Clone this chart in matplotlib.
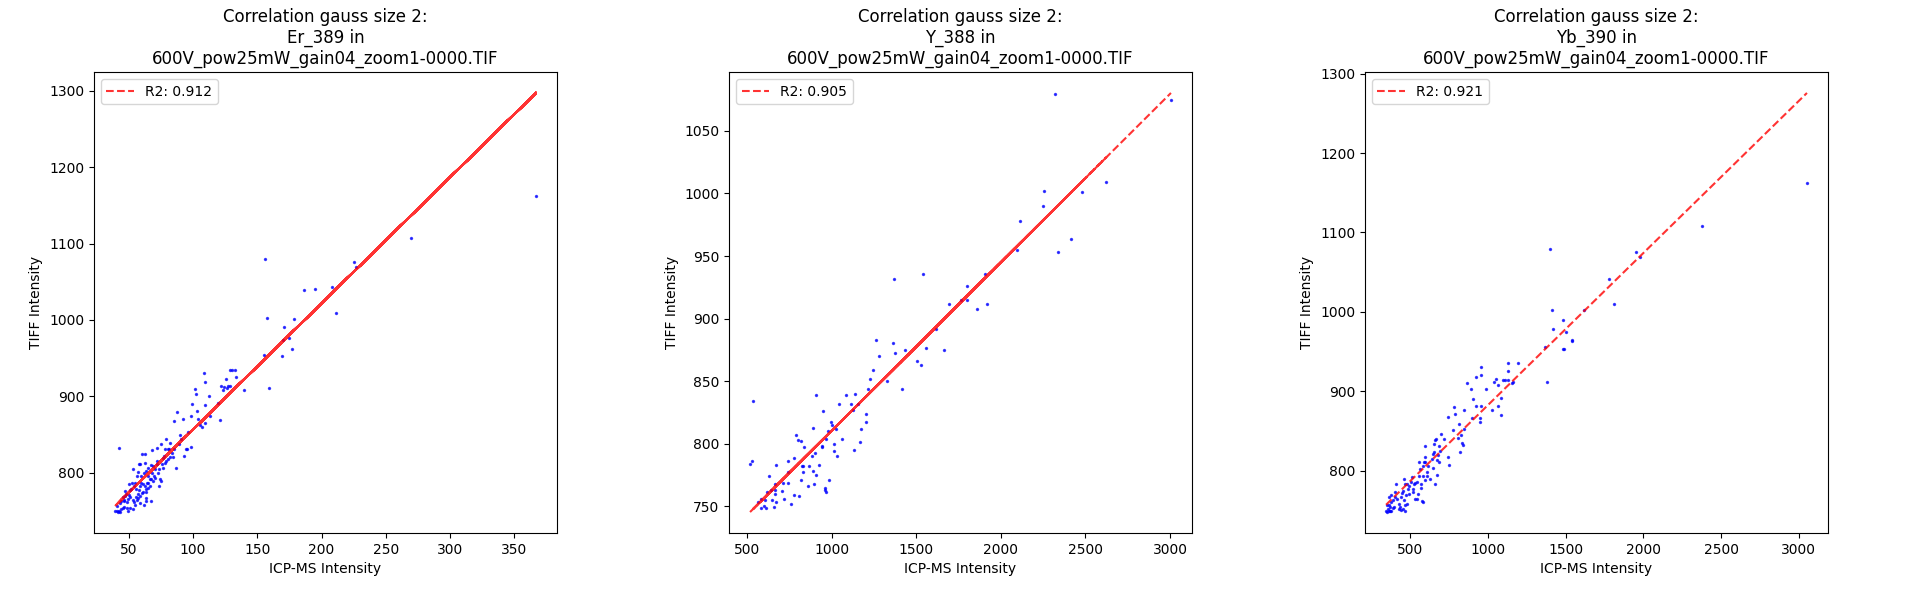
import matplotlib
matplotlib.use('Agg')
import matplotlib.pyplot as plt
import numpy as np

FILE_NAME = '600V_pow25mW_gain04_zoom1-0000.TIF'
ELEMENTS = ['Er_389', 'Y_388', 'Yb_390']
R2 = [0.912, 0.905, 0.921]
# red fit lines, y = slope * x + intercept
FIT_SLOPE = [1.654, 0.1347, 0.1914]
FIT_INTERCEPT = [690.9, 675.5, 691.5]
# how the fit line was traced through the samples: back and forth looks solid,
# in order looks dashed
LINE_ORDER = ['fan', 'zigzag_last_max', 'sorted']

# (ICP-MS intensity, TIFF intensity)
er_389 = [
    (42.6, 832.6), (39.5, 749.1), (40.8, 749.1), (42.1, 748.7), (43.7, 748.3), (42.9, 750.0),
    (43.9, 752.2), (45.5, 753.5), (46.8, 754.8), (48.9, 753.5), (49.7, 750.0), (51.3, 753.9),
    (53.4, 751.7), (53.9, 760.9), (55.0, 757.8), (58.7, 759.6), (61.8, 757.4), (63.4, 762.6),
    (63.9, 766.1), (67.1, 762.2), (41.3, 756.5), (43.4, 759.6), (44.5, 762.2), (46.1, 764.3),
    (45.5, 767.4), (47.1, 769.6), (48.4, 772.2), (47.6, 776.5), (50.3, 770.9), (50.8, 777.4),
    (51.8, 779.1), (50.5, 784.8), (52.4, 787.0), (53.2, 805.2), (54.5, 782.6), (55.3, 786.1),
    (56.1, 778.3), (57.1, 771.7), (58.4, 777.4), (58.9, 782.6), (59.7, 786.1), (60.3, 773.9),
    (61.3, 784.8), (60.8, 824.3), (62.9, 824.8), (57.4, 800.9), (56.3, 795.7), (57.9, 810.9),
    (58.9, 811.3), (62.4, 812.2), (63.2, 774.8), (64.2, 787.0), (65.0, 780.4), (65.5, 795.7),
    (66.3, 791.3), (67.1, 809.6), (67.9, 829.6), (68.4, 800.0), (69.5, 795.7), (70.3, 805.2),
    (71.8, 832.6), (72.4, 815.2), (73.9, 782.6), (74.5, 791.3), (75.0, 789.1), (75.5, 837.8),
    (76.1, 810.9), (76.8, 819.6), (77.6, 821.7), (78.2, 813.0), (79.2, 844.3), (78.7, 831.3),
    (80.3, 831.3), (81.3, 830.4), (82.6, 838.3), (82.4, 820.4), (84.5, 820.4), (85.5, 867.0),
    (86.8, 806.5), (87.6, 880.0), (89.2, 837.0), (90.0, 849.6), (91.1, 844.3), (92.4, 869.6),
    (93.2, 821.7), (94.5, 831.3), (95.5, 830.4), (96.6, 853.0), (98.2, 874.8), (98.9, 833.9),
    (99.5, 890.0), (101.3, 910.0), (102.1, 903.5), (103.2, 881.3), (103.9, 869.6), (105.5, 863.0),
    (107.1, 860.0), (108.7, 930.4), (109.7, 919.1), (109.5, 889.1), (109.7, 865.2), (112.6, 900.9),
    (113.4, 873.9), (119.5, 890.9), (120.8, 868.3), (121.8, 913.9), (123.4, 907.8), (124.5, 912.2),
    (125.5, 922.6), (126.3, 911.3), (127.6, 913.0), (128.7, 913.9), (129.2, 933.9), (130.8, 934.3),
    (132.4, 934.3), (133.4, 925.2), (139.7, 908.3), (155.5, 953.9), (159.5, 910.9), (169.5, 953.0),
    (169.7, 973.9), (174.7, 976.1), (176.8, 961.7), (155.7, 1079.9), (157.9, 1002.5), (170.8, 990.4),
    (178.6, 1001.0), (186.2, 1039.2), (195.3, 1040.2), (208.2, 1043.2), (211.6, 1009.0),
    (225.2, 1075.9), (227.0, 1069.8), (269.8, 1107.0), (366.7, 1162.3),
    (46.8, 763.0), (48.7, 760.9), (49.7, 765.2), (51.3, 767.4), (53.2, 764.3), (55.5, 767.4),
    (56.6, 763.5), (57.6, 766.1), (59.2, 769.6), (61.1, 774.8), (62.4, 782.6), (63.4, 779.1),
    (65.0, 787.0), (66.6, 782.6), (67.6, 791.3), (69.2, 789.1), (70.8, 793.5), (72.9, 800.0),
    (73.9, 804.3), (59.7, 795.7), (61.8, 799.1), (63.9, 802.6), (65.5, 806.5), (68.7, 808.7),
    (71.8, 810.9), (76.6, 806.5), (79.2, 814.8), (80.8, 818.3), (83.4, 826.1), (85.1, 830.4),
]

y_388 = [
    (535.3, 833.9), (517.6, 783.3), (529.4, 785.7), (1264.8, 883.2), (1364.8, 880.8), (1282.4, 870.4),
    (1374.6, 872.8), (1435.4, 875.2), (1247.1, 859.2), (1227.5, 852.0), (1327.5, 850.4), (1506.0, 866.4),
    (1529.5, 863.2), (1559.0, 876.8), (1617.8, 892.0), (1664.8, 875.2), (1417.7, 843.3), (1217.7, 843.3),
    (1135.4, 839.3), (1082.4, 838.5), (905.9, 838.5), (1111.8, 831.3), (1041.2, 831.3), (947.1, 825.7),
    (1155.0, 831.3), (1123.6, 826.7), (1206.0, 823.3), (1206.0, 816.9), (1176.5, 811.3), (1170.6, 800.9),
    (1129.5, 794.5), (1058.9, 803.3), (1029.5, 789.7), (1011.8, 793.7), (1011.8, 799.3), (1023.6, 811.3),
    (1000.0, 814.5), (994.2, 816.9), (976.5, 809.7), (964.7, 803.3), (941.2, 797.7), (941.2, 796.9),
    (888.3, 812.1), (788.3, 806.5), (800.0, 802.5), (817.7, 801.7), (835.3, 796.9), (882.4, 789.7),
    (900.0, 792.1), (776.5, 788.1), (741.2, 785.7), (670.6, 782.5), (823.6, 781.7), (829.4, 781.7),
    (864.7, 781.7), (923.5, 782.5), (741.2, 776.9), (829.4, 776.9), (888.3, 777.7), (905.9, 774.5),
    (982.4, 770.5), (817.7, 770.5), (629.4, 773.7), (664.7, 767.3), (711.8, 768.1), (741.2, 768.1),
    (858.8, 765.7), (894.1, 767.3), (958.8, 764.1), (958.8, 762.5), (964.7, 760.9), (705.9, 761.7),
    (662.7, 762.5), (662.7, 759.3), (641.2, 762.5), (617.7, 760.9), (647.1, 754.5), (670.6, 752.9),
    (717.7, 755.3), (776.5, 758.5), (807.8, 757.7), (758.8, 751.3), (564.7, 752.9), (582.4, 755.3),
    (605.9, 754.5), (600.0, 749.8), (611.8, 748.2), (582.4, 748.2), (658.8, 749.0), (1369.0, 931.4),
    (1539.0, 935.9), (2317.6, 1079.6), (3006.0, 1074.8), (2623.5, 1009.3), (2482.3, 1001.4),
    (2252.8, 1002.2), (2247.0, 990.2), (2111.7, 978.2), (2417.6, 963.8), (2341.0, 953.5),
    (2094.0, 955.0), (1905.7, 935.9), (1799.9, 926.3), (1694.0, 912.0), (1764.6, 914.6),
    (1799.9, 914.6), (1860.6, 908.0), (1917.5, 912.0),
]

yb_390 = [
    (344.0, 749.0), (352.5, 748.2), (361.1, 749.9), (369.6, 749.0), (378.2, 749.5), (356.8, 752.4),
    (369.6, 754.5), (386.7, 753.2), (395.3, 754.5), (348.3, 756.5), (365.4, 757.4), (373.9, 760.7),
    (365.4, 767.0), (378.2, 769.1), (391.0, 762.8), (399.6, 767.0), (403.8, 773.2), (408.1, 783.2),
    (416.7, 764.0), (425.2, 758.6), (429.5, 752.4), (433.8, 754.5), (442.3, 750.3), (450.8, 752.4),
    (438.0, 767.0), (446.6, 772.4), (455.1, 775.3), (459.4, 762.8), (463.7, 757.4), (467.9, 749.5),
    (472.2, 769.1), (480.8, 758.6), (467.9, 784.1), (459.4, 789.9), (480.8, 783.6), (485.0, 777.4),
    (489.3, 771.1), (493.6, 781.6), (502.1, 786.6), (510.7, 792.0), (515.0, 773.2), (519.2, 776.6),
    (523.5, 783.6), (527.8, 764.0), (532.1, 784.9), (540.6, 785.7), (544.9, 764.9), (549.2, 771.1),
    (553.4, 794.1), (557.7, 811.6), (562.0, 802.4), (566.2, 778.2), (570.5, 783.6), (574.8, 761.5),
    (583.3, 760.7), (579.1, 794.1), (583.3, 806.6), (587.6, 811.6), (591.9, 817.0), (591.9, 830.7),
    (596.2, 810.7), (596.2, 789.1), (604.7, 798.2), (609.0, 794.1), (613.3, 806.6), (626.1, 789.9),
    (638.9, 814.9), (643.2, 803.2), (643.2, 821.2), (651.7, 823.2), (651.7, 833.7), (656.0, 783.6),
    (660.3, 838.7), (664.5, 839.9), (668.8, 813.7), (673.1, 794.9), (677.4, 819.9), (685.9, 811.6),
    (685.9, 831.6), (690.2, 825.3), (698.7, 846.2), (715.8, 839.9), (741.5, 817.0), (747.9, 807.4),
    (743.6, 868.3), (773.5, 851.2), (779.9, 880.8), (788.5, 871.2), (805.6, 840.8), (814.1, 859.5),
    (818.4, 823.2), (827.0, 844.9), (831.2, 834.5), (839.8, 832.8), (844.1, 876.6), (844.1, 853.3),
    (865.4, 910.8), (891.1, 903.3), (899.6, 867.0), (903.9, 890.8), (921.0, 881.6), (923.1, 918.3),
    (950.9, 861.6), (950.9, 866.6), (953.0, 921.2), (955.2, 930.8), (955.2, 881.6), (989.4, 902.5),
    (1025.7, 876.2), (1036.4, 911.6), (1049.2, 915.0), (1062.0, 908.7), (1066.3, 881.6), (1081.3, 869.9),
    (1083.4, 892.0), (1096.2, 914.1), (1111.2, 914.1), (1126.1, 914.1), (1130.4, 935.8), (1130.4, 925.4),
    (1156.1, 910.0), (1160.3, 911.6), (1190.3, 935.8), (1365.5, 955.8), (1378.3, 912.0), (1485.2, 953.3),
    (1540.7, 964.2), (1397.7, 1079.7), (1410.5, 1002.2), (1417.0, 978.4), (1481.0, 989.7),
    (1500.2, 974.7), (1538.7, 963.4), (1487.4, 953.4), (1615.6, 1002.2), (1775.9, 1041.0),
    (1807.9, 1009.7), (1949.0, 1076.0), (1974.6, 1069.7), (2378.5, 1108.5), (3051.7, 1162.3),
]

# axes boxes in pixels: left edges, width, bottom, height
AX_LEFT = [94, 729, 1365]
AX_W, AX_BOTTOM, AX_H = 463, 67, 461


def line_x(x, order):
    s = list(np.sort(x))
    if order == 'sorted':
        return np.array(s)
    if order == 'fan':
        # every second vertex goes back to the largest x
        out = []
        for v in s[:-1]:
            out += [v, s[-1]]
        return np.array(out)
    last = None
    if order == 'zigzag_last_max':
        last = s.pop()
    out = []
    while s:
        out.append(s.pop(0))
        if s:
            out.append(s.pop())
    if last is not None:
        out.append(last)
    return np.array(out)


def main():
    # keep every back-and-forth vertex of the fit lines
    plt.rcParams['path.simplify'] = False
    data = [er_389, y_388, yb_390]
    fig, axs = plt.subplots(1, 3, figsize=(19.08, 6), dpi=100)
    for i, ax in enumerate(axs):
        ax.set_position([AX_LEFT[i] / 1908, AX_BOTTOM / 600, AX_W / 1908, AX_H / 600])
        x, y = np.array(data[i]).T
        ax.scatter(x, y, s=2, c='blue', alpha=0.7)
        lx = line_x(x, LINE_ORDER[i])
        ax.plot(lx, FIT_SLOPE[i] * lx + FIT_INTERCEPT[i], 'r--', alpha=0.8,
                label='R2: ' + str(R2[i]))
        ax.set_title('Correlation gauss size 2:\n' + ELEMENTS[i] + ' in\n' + FILE_NAME)
        ax.set_xlabel('ICP-MS Intensity')
        ax.set_ylabel('TIFF Intensity')
        ax.legend(loc='upper left')
    fig.savefig('out.png')


if __name__ == '__main__':
    main()
